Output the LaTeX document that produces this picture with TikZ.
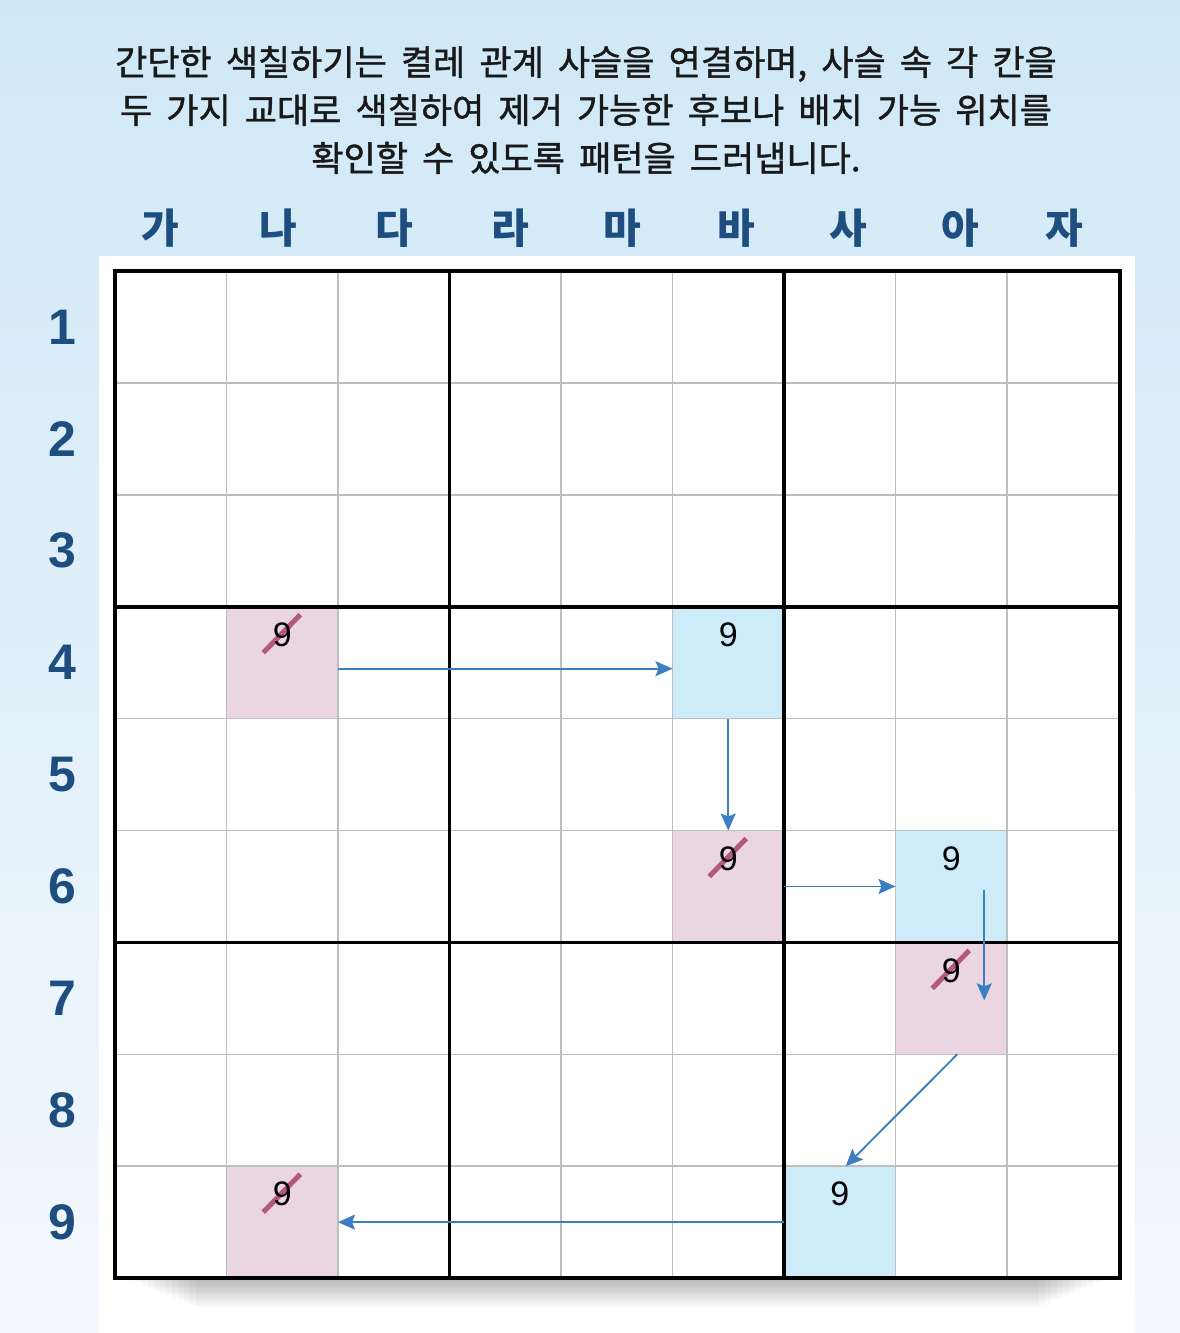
\documentclass[tikz,border=0pt]{standalone}
\usepackage{fontspec}
\usetikzlibrary{arrows.meta}
\newfontfamily\krt{Noto Sans CJK KR}[FakeBold=1.2,WordSpace=1.8]
\newfontfamily\krb{Noto Sans CJK KR}
\newfontfamily\arl{Liberation Sans}
\definecolor{bgtop}{HTML}{CFE8F7}
\definecolor{bgbot}{HTML}{F3F8FD}
\definecolor{labc}{HTML}{1D4E7F}
\definecolor{pinkc}{HTML}{E9D6E1}
\definecolor{bluec}{HTML}{CDEBF8}
\definecolor{strikec}{HTML}{B4587C}
\definecolor{arrc}{HTML}{3B7FC2}
\definecolor{thinc}{HTML}{BEBEBE}
\tikzset{
  cellbox/.style={minimum width=111.5pt,minimum height=111.9pt,inner sep=0pt,outer sep=0pt,draw=none},
  pinkcell/.style={cellbox,fill=pinkc},
  bluecell/.style={cellbox,fill=bluec},
  digit/.style={font=\arl\fontsize{34}{34}\selectfont,inner sep=0pt,text=black},
  strk/.style={draw=strikec,line width=5pt},
  arr/.style={draw=arrc,line width=1.9pt,-{Stealth[length=17pt,width=15pt,inset=3pt]}},
  collab/.style={font=\krb\bfseries\fontsize{41}{41}\selectfont,text=labc,inner sep=0pt},
  rowlab/.style={font=\arl\bfseries\fontsize{50}{50}\selectfont,text=labc,inner sep=0pt},
  titletext/.style={font=\krt\fontsize{35}{48}\selectfont,align=center,inner sep=0pt,text=black!90}
}
\begin{document}
\begin{tikzpicture}[x=1pt,y=-1pt]
\useasboundingbox (0,0) rectangle (1180,1333);
% background
\shade[top color=bgtop,bottom color=bgbot] (0,0) rectangle (1180,1333);
\fill[white] (99,256) rectangle (1135,1333);
% title
\node[titletext] (title) at (586,110) {간단한 색칠하기는 켤레 관계 사슬을 연결하며, 사슬 속 각 칸을\\두 가지 교대로 색칠하여 제거 가능한 후보나 배치 가능 위치를\\확인할 수 있도록 패턴을 드러냅니다.};
% column labels
\node[collab] (ca) at (160,228) {가};
\node[collab] (cb) at (278,228) {나};
\node[collab] (cc) at (394,228) {다};
\node[collab] (cd) at (510,228) {라};
\node[collab] (ce) at (622,228) {마};
\node[collab] (cf) at (736,228) {바};
\node[collab] (cg) at (848,228) {사};
\node[collab] (ch) at (960,228) {아};
\node[collab] (ci) at (1064,228) {자};
% row labels
\foreach \r [count=\k] in {1,...,9}{
  \node[rowlab] (r\r) at (62,{271+111.9*(\k-0.5)}) {\r};
}
% soft shadow under the grid
\foreach \k in {0,...,11}{
  \fill[black,opacity=0.022] ({130+\k*6},1278) rectangle ({1105-\k*6},{1281+\k*2.4});
}
\fill[white] (115,271) rectangle (1120,1278);
% coloured cells
\node[pinkcell] (c24) at (282.25,662.65) {};
\node[bluecell] (c64) at (728.25,662.65) {};
\node[pinkcell] (c66) at (728.25,886.45) {};
\node[bluecell] (c86) at (951.25,886.45) {};
\node[pinkcell] (c87) at (951.25,998.35) {};
\node[bluecell] (c79) at (839.75,1222.15) {};
\node[pinkcell] (c29) at (282.25,1222.15) {};
% thin grid lines
\foreach \i in {1,2,4,5,7,8}{
  \draw[thinc,line width=1.5pt] ({115+111.5*\i},271) -- ({115+111.5*\i},1278);
  \draw[thinc,line width=1.5pt] (115,{271+111.9*\i}) -- (1120,{271+111.9*\i});
}
% thick box lines
\foreach \i in {3,6}{
  \draw[black,line width=3.6pt] ({115+111.5*\i},271) -- ({115+111.5*\i},1278);
  \draw[black,line width=3.6pt] (115,{271+111.9*\i}) -- (1120,{271+111.9*\i});
}
\draw[black,line width=4.2pt] (115,271) rectangle (1120,1278);
% digits
\foreach \c in {24,64,66,86,87,79,29}{
  \node[digit] (n\c) at ([yshift=-28pt]c\c.north) {\phantom{9}};
}
\foreach \c in {24,66,87,29}{
  \draw[strk] ([xshift=-19pt,yshift=-18pt]n\c.center) -- ([xshift=18pt,yshift=20pt]n\c.center);
}
\foreach \c in {24,64,66,86,87,79,29}{
  \node[digit] at (n\c) {9};
}
% chain arrows
\draw[arr] ([yshift=-6pt]c24.east) -- ([yshift=-6pt]c64.west);
\draw[arr] (c64.south) -- (c66.north);
\draw[arr] (c66.east) -- (c86.west);
\draw[arr] ([xshift=33pt,yshift=-4pt]c86.center) -- ([xshift=33pt,yshift=-2pt]c87.center);
\draw[arr] ([xshift=6pt]c87.south) -- ([xshift=6pt]c79.north);
\draw[arr] (c79.west) -- (c29.east);
\end{tikzpicture}
\end{document}
